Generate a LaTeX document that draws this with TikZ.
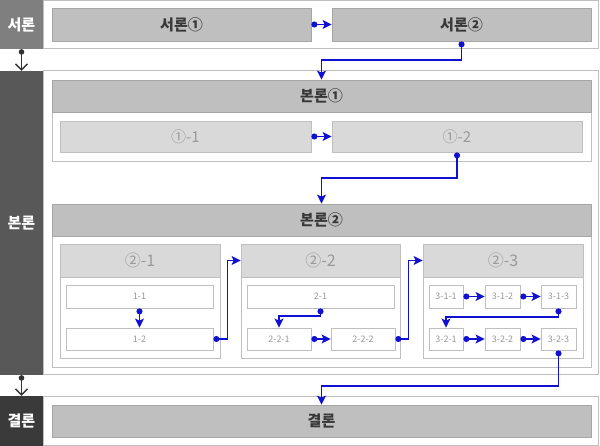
\documentclass[tikz,border=0pt]{standalone}
\usepackage{fontspec}
\setmainfont{Noto Sans CJK KR}
\usetikzlibrary{arrows.meta}

\definecolor{barintro}{HTML}{7F7F7F}
\definecolor{barbody}{HTML}{585858}
\definecolor{barend}{HTML}{3A3A3A}
\definecolor{flowblue}{HTML}{1010D0}

\begin{document}
\begin{tikzpicture}[x=1pt,y=-1pt,
frame/.style={draw=black!25,fill=white,line width=1pt,inner sep=0pt},
sidebar/.style={fill=#1,inner sep=0pt,text=white,font=\bfseries\fontsize{15}{16}\selectfont},
mainbox/.style={draw=black!35,fill=black!25,line width=0.8pt,inner sep=0pt,text=black!78,font=\bfseries\fontsize{15}{16}\selectfont},
subbox/.style={draw=black!25,fill=black!15,line width=0.8pt,inner sep=0pt,text=black!40,font=\fontsize{15}{16}\selectfont},
headbox/.style={subbox,font=\fontsize{16}{17}\selectfont},
itembox/.style={draw=black!25,fill=white,line width=0.8pt,inner sep=0pt,text=black!40,font=\fontsize{9}{10}\selectfont},
flow/.style={flowblue,line width=1.4pt,{Circle[length=6pt]}-{Stealth[length=9pt,width=9pt,inset=2pt]}},
next/.style={black!80,line width=1.4pt,{Circle[length=5.5pt]}-{Straight Barb[length=6pt,width=12pt]}}]
\useasboundingbox (0,0) rectangle (600,446);

\node[frame,minimum width=555pt,minimum height=48pt] (frmA) at (320.5,24.5) {};
\node[frame,minimum width=555pt,minimum height=304pt] (frmB) at (320.5,223) {};
\node[frame,minimum width=555pt,minimum height=49pt] (frmC) at (320.5,420.5) {};
\node[sidebar=barintro,minimum width=43pt,minimum height=49pt] (barA) at (21.5,24.5) {서론};
\node[sidebar=barbody,minimum width=43pt,minimum height=304pt] (barB) at (21.5,223) {본론};
\node[sidebar=barend,minimum width=43pt,minimum height=50pt] (barC) at (21.5,421) {결론};

\node[mainbox,minimum width=259pt,minimum height=33pt] (intro1) at (181.5,24.5) {서론①};
\node[mainbox,minimum width=259pt,minimum height=33pt] (intro2) at (461.5,24.5) {서론②};

\node[frame,line width=0.8pt,minimum width=539pt,minimum height=81pt] (cont1) at (321.5,120.5) {};
\node[mainbox,minimum width=539pt,minimum height=32pt] (body1) at (321.5,96) {본론①};
\node[subbox,minimum width=251pt,minimum height=31pt] (b11) at (185.5,136.5) {①-1};
\node[subbox,minimum width=250pt,minimum height=31pt] (b12) at (457,136.5) {①-2};

\node[frame,line width=0.8pt,minimum width=539pt,minimum height=163pt] (cont2) at (321.5,285.5) {};
\node[mainbox,minimum width=539pt,minimum height=32pt] (body2) at (321.5,220) {본론②};
\node[frame,line width=0.8pt,minimum width=160pt,minimum height=114pt] (pan1) at (140,301) {};
\node[frame,line width=0.8pt,minimum width=159pt,minimum height=114pt] (pan2) at (320.5,301) {};
\node[frame,line width=0.8pt,minimum width=160pt,minimum height=114pt] (pan3) at (503,301) {};
\node[headbox,minimum width=160pt,minimum height=33pt] (head1) at (140,260.5) {②-1};
\node[headbox,minimum width=159pt,minimum height=33pt] (head2) at (320.5,260.5) {②-2};
\node[headbox,minimum width=160pt,minimum height=33pt] (head3) at (503,260.5) {②-3};

\node[itembox,minimum width=147pt,minimum height=23pt] (i11) at (139.5,296.5) {1-1};
\node[itembox,minimum width=147pt,minimum height=22pt] (i12) at (139.5,339) {1-2};
\node[itembox,minimum width=147pt,minimum height=23pt] (i21) at (320.5,296.5) {2-1};
\node[itembox,minimum width=64pt,minimum height=22pt] (i221) at (279,339) {2-2-1};
\node[itembox,minimum width=64pt,minimum height=22pt] (i222) at (363,339) {2-2-2};
\node[itembox,minimum width=34pt,minimum height=23pt] (i311) at (446,296.5) {3-1-1};
\node[itembox,minimum width=35pt,minimum height=23pt] (i312) at (502.5,296.5) {3-1-2};
\node[itembox,minimum width=35pt,minimum height=23pt] (i313) at (558.5,296.5) {3-1-3};
\node[itembox,minimum width=34pt,minimum height=22pt] (i321) at (446,339) {3-2-1};
\node[itembox,minimum width=35pt,minimum height=22pt] (i322) at (502.5,339) {3-2-2};
\node[itembox,minimum width=35pt,minimum height=22pt] (i323) at (558.5,339) {3-2-3};

\node[mainbox,minimum width=539pt,minimum height=32pt] (end1) at (321.5,421) {결론};

\draw[next] (barA.south) -- (barB.north);
\draw[next] (barB.south) -- (barC.north);

\draw[flow] (intro1.east) -- (intro2.west);
\draw[flow] (intro2.south) -- (intro2.south |- 0,60) -| (body1.north);
\draw[flow] (b11.east) -- (b12.west);
\draw[flow] (b12.south) -- (b12.south |- 0,178) -| (body2.north);
\draw[flow] (i11.south) -- (i12.north);
\draw[flow] (i12.east) -- ++(14,0) |- (head2.west);
\draw[flow] (i21.south) -- (i21.south |- 0,316) -| (i221.north);
\draw[flow] (i221.east) -- (i222.west);
\draw[flow] (i222.east) -- ++(13,0) |- (head3.west);
\draw[flow] (i311.east) -- (i312.west);
\draw[flow] (i312.east) -- (i313.west);
\draw[flow] (i313.south) -- (i313.south |- 0,317) -| (i321.north);
\draw[flow] (i321.east) -- (i322.west);
\draw[flow] (i322.east) -- (i323.west);
\draw[flow] (i323.south) -- (i323.south |- 0,386) -| (end1.north);
\end{tikzpicture}
\end{document}
